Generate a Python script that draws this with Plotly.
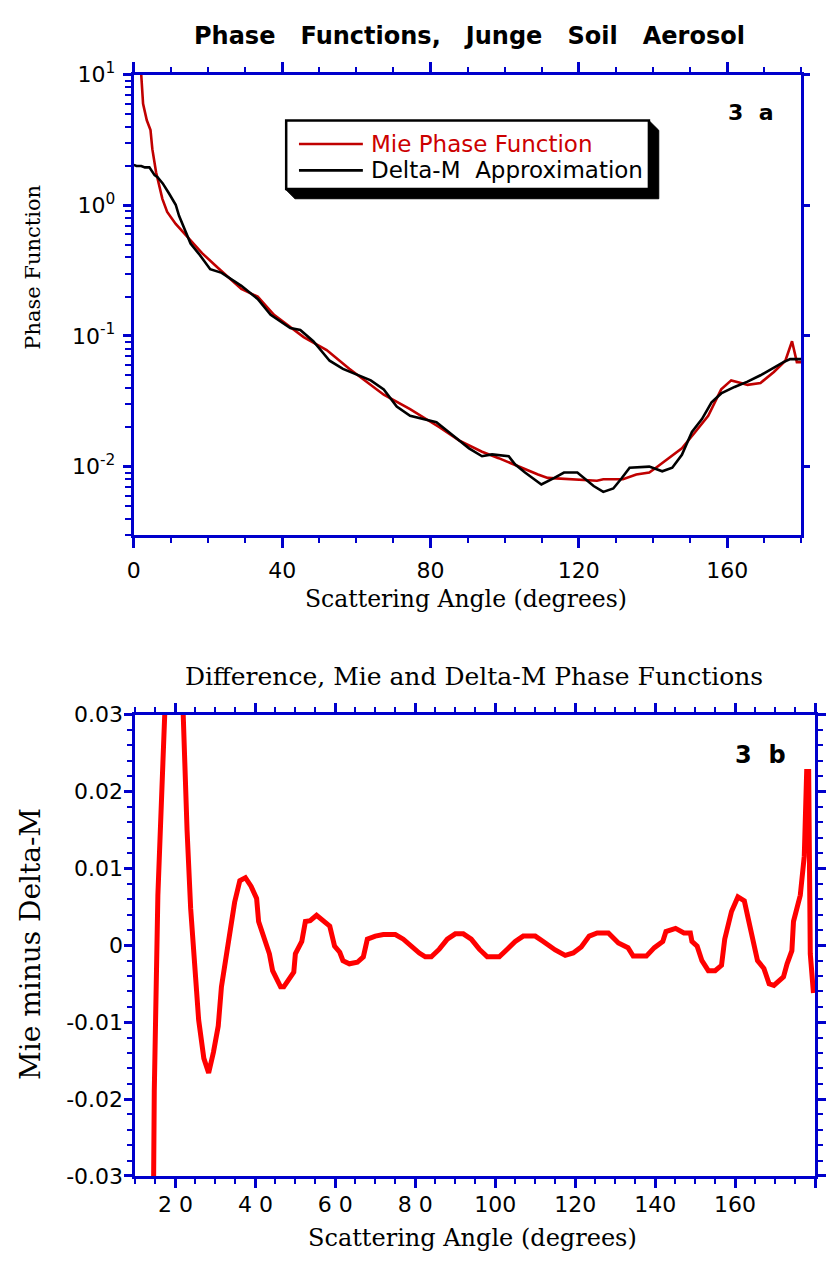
import numpy as np
import plotly.graph_objects as go

W, H = 826, 1273


def px(x):
    return x / W


def py(y):
    return 1 - y / H


# ---------------- data ----------------
mie_angle = [2, 2.5, 3.5, 4.5, 5.0, 6, 7.7, 9, 11.3, 14.8, 18.4, 22.8, 29, 33.4, 37.8,
             45.8, 52, 58.1, 62.6, 67.4, 74.5, 82.4, 87.8, 93.9, 98.4, 104.5, 109, 111.6,
             120.4, 124.9, 126.6, 131.9, 135.5, 139, 140.8, 144.3, 147.8, 151.4, 154.9,
             158.4, 161.1, 163.7, 165.5, 169, 172.6, 175.7, 177.5, 178.8, 180]
mie_value = [10, 5.97, 4.47, 3.76, 2.69, 1.79, 1.12, 0.89, 0.72, 0.555, 0.43, 0.33, 0.229,
             0.20, 0.145, 0.098, 0.078, 0.056, 0.045, 0.0355, 0.0275, 0.020, 0.0158, 0.013,
             0.0116, 0.0098, 0.0087, 0.0082, 0.0080, 0.0078, 0.0080, 0.0080, 0.0087, 0.0090,
             0.0098, 0.0116, 0.0138, 0.0184, 0.0245, 0.039, 0.0457, 0.0437, 0.0422, 0.0437,
             0.053, 0.0646, 0.091, 0.063, 0.063]

dm_angle = [0, 0.7, 2, 3, 4.2, 5.6, 6.4, 7.8, 9.5, 11.3, 12.2, 15.3, 17.5, 20.6, 23.7, 26,
            29, 33.4, 36.9, 42.2, 44.9, 48.4, 52.8, 56.4, 60.8, 63.9, 67.4, 70.9, 74.5, 78.9,
            81.6, 86, 90.4, 93.9, 96.6, 101.1, 102.8, 105.5, 109.9, 113.4, 116, 119.6, 124,
            126.6, 129.3, 131.5, 133.7, 139, 142.5, 145.2, 147.8, 150.5, 153.2, 155.8, 158.4,
            162, 165.5, 169, 172.6, 175.2, 177, 180]
dm_value = [2.04, 2.0, 2.0, 1.95, 1.95, 1.70, 1.64, 1.47, 1.23, 1.01, 0.83, 0.51, 0.427,
            0.324, 0.304, 0.275, 0.242, 0.192, 0.145, 0.115, 0.111, 0.091, 0.0646, 0.056,
            0.050, 0.0457, 0.039, 0.0288, 0.0245, 0.0229, 0.0219, 0.0174, 0.0138, 0.012,
            0.0124, 0.012, 0.0104, 0.009, 0.0073, 0.0082, 0.009, 0.009, 0.0071, 0.0064,
            0.0068, 0.0081, 0.0098, 0.010, 0.0092, 0.0098, 0.0123, 0.0184, 0.0231, 0.031,
            0.0363, 0.0407, 0.0447, 0.050, 0.0575, 0.063, 0.0665, 0.0665]

diff_angle = [14.4, 14.7, 15.6, 16.8, 17.2, 19.5, 21.3, 22.1, 22.9, 23.8, 24.6, 25.8, 27.1,
              28.3, 29.5, 30.7, 31.5, 32.8, 34.0, 34.8, 36.1, 37.5, 38.9, 40.3, 40.8, 42.2,
              43.5, 44.3, 46.3, 47.1, 49.6, 50.0, 51.6, 52.5, 53.7, 55.3, 56.9, 58.6, 59.8,
              61.1, 61.9, 63.5, 65.5, 67, 68, 70, 72, 75, 77, 79, 81, 82.5, 84, 86, 88, 90,
              92, 94, 96, 98, 101, 103, 105, 107, 110, 112, 115, 117.5, 119.5, 121.5, 123.5,
              125.5, 128.3, 130.8, 133.2, 134.5, 137.8, 139.8, 141.9, 142.7, 145.1, 147.2,
              148.8, 149.2, 150.5, 151.7, 153.3, 155.0, 156.6, 157.4, 159.1, 160.7, 162.3,
              163.1, 163.9, 164.8, 165.6, 167.2, 168.5, 169.7, 172.1, 173.0, 174.2, 174.6,
              176.3, 177.3, 177.9, 178.4, 178.8, 179.6]
diff_value = [-0.04, -0.019, 0.0065, 0.0234, 0.04, 0.06, 0.04, 0.0255, 0.015, 0.0048,
              -0.002, -0.0097, -0.0147, -0.0166, -0.0139, -0.0105, -0.0054, -0.0012, 0.0027,
              0.0056, 0.0084, 0.0088, 0.0077, 0.0061, 0.0031, 0.001, -0.0011, -0.0033,
              -0.0054, -0.0054, -0.0035, -0.0011, 0.0005, 0.0031, 0.0032, 0.0039, 0.0032,
              0.0025, -0.0001, -0.0009, -0.002, -0.0024, -0.0022, -0.0015, 0.0008, 0.0012,
              0.0014, 0.0014, 0.0008, -0.0002, -0.001, -0.0015, -0.0015, -0.0005, 0.0008,
              0.0015, 0.0015, 0.0008, -0.0005, -0.0015, -0.0015, -0.0005, 0.0005, 0.0012,
              0.0012, 0.0005, -0.0006, -0.0013, -0.0010, -0.0002, 0.0012, 0.0016, 0.0016,
              0.0003, -0.0003, -0.0014, -0.0014, -0.0003, 0.0005, 0.0018, 0.0022, 0.0016,
              0.0016, 0.0005, -0.0001, -0.002, -0.0033, -0.0033, -0.0026, 0.0008, 0.0044,
              0.0063, 0.0058, 0.0039, 0.0018, -0.0007, -0.002, -0.003, -0.005, -0.0052,
              -0.0041, -0.0024, -0.0007, 0.0031, 0.0065, 0.0116, 0.0226, 0.0226, -0.0011,
              -0.0062]

top_x_ticks = [0, 40, 80, 120, 160]
top_y_ticks = [0.01, 0.1, 1, 10]
top_y_text = ["10<sup>-2</sup>", "10<sup>-1</sup>", "10<sup>0</sup>", "10<sup>1</sup>"]
bot_x_ticks = [20, 40, 60, 80, 100, 120, 140, 160, 180]
bot_x_text = ["2 0", "4 0", "6 0", "8 0", "100", "120", "140", "160", "180"]
bot_y_ticks = [0.03, 0.02, 0.01, 0, -0.01, -0.02, -0.03]
bot_y_text = ["0.03", "0.02", "0.01", "0", "-0.01", "-0.02", "-0.03"]

# ---------------- style ----------------
BLUE = "#0000cc"
SANS = "DejaVu Sans"
SERIF = "DejaVu Serif"
tickfont = dict(family=SANS, size=22, color="black")

minor_log = [m * 10.0 ** e for e in (-3, -2, -1, 0) for m in range(2, 10)]
minor_log = [v for v in minor_log if v >= 0.003]

fig = go.Figure()
fig.add_trace(go.Scatter(x=mie_angle, y=mie_value, mode="lines",
                         line=dict(color="#c00000", width=2.6),
                         xaxis="x", yaxis="y", showlegend=False))
fig.add_trace(go.Scatter(x=dm_angle, y=dm_value, mode="lines",
                         line=dict(color="black", width=2.6),
                         xaxis="x", yaxis="y", showlegend=False))
fig.add_trace(go.Scatter(x=diff_angle, y=diff_value, mode="lines",
                         line=dict(color="#ff0000", width=5),
                         xaxis="x2", yaxis="y2", showlegend=False))
# empty trace so the right-hand decade tick axis of the top panel is drawn
fig.add_trace(go.Scatter(x=[], y=[], xaxis="x", yaxis="y3", showlegend=False,
                         hoverinfo="skip"))

axis_common = dict(showline=True, linecolor=BLUE, linewidth=3, ticks="outside",
                   tickcolor=BLUE, tickwidth=2.5, showgrid=False, zeroline=False,
                   tickfont=tickfont)

fig.update_layout(
    width=W, height=H, margin=dict(l=0, r=0, t=0, b=0),
    paper_bgcolor="white", plot_bgcolor="white", showlegend=False,
    xaxis=dict(domain=[px(129), px(808)], anchor="y", range=[0, 180],
               tickmode="array", tickvals=top_x_ticks, ticklen=10, mirror="ticks",
               ticklabelstandoff=4,
               minor=dict(dtick=10, tick0=0, ticks="outside", ticklen=5,
                          tickcolor=BLUE, tickwidth=2),
               **axis_common),
    yaxis=dict(domain=[py(531), py(60)], anchor="x", type="log",
               range=[np.log10(0.003), 1], tickmode="array", tickvals=top_y_ticks,
               ticktext=top_y_text, ticklen=8, mirror=True, ticklabelstandoff=3,
               minor=dict(tickvals=minor_log, ticks="outside", ticklen=6,
                          tickcolor=BLUE, tickwidth=2),
               **axis_common),
    yaxis3=dict(overlaying="y", anchor="x", side="right", type="log",
                range=[np.log10(0.003), 1], tickmode="array", tickvals=top_y_ticks,
                ticks="outside", ticklen=8, tickcolor=BLUE, tickwidth=2.5,
                showticklabels=False, showline=False, showgrid=False, zeroline=False),
    xaxis2=dict(domain=[px(130.7), px(822)], anchor="y2", range=[10, 180],
                tickmode="array", tickvals=bot_x_ticks, ticktext=bot_x_text,
                ticklen=9, mirror="ticks", ticklabelstandoff=-2,
                minor=dict(dtick=5, tick0=10, ticks="outside", ticklen=5,
                           tickcolor=BLUE, tickwidth=2),
                **axis_common),
    yaxis2=dict(domain=[py(1187), py(715)], anchor="x2", range=[-0.03, 0.03],
                tickmode="array", tickvals=bot_y_ticks, ticktext=bot_y_text,
                ticklen=8, mirror="ticks", ticklabelstandoff=-3,
                minor=dict(dtick=0.002, tick0=0, ticks="outside", ticklen=5,
                           tickcolor=BLUE, tickwidth=2),
                **axis_common),
)

ann = []


def text(x, y, s, size, family, color="black", xanchor="center", angle=0):
    ann.append(dict(x=px(x), y=py(y), xref="paper", yref="paper", text=s,
                    showarrow=False, xanchor=xanchor, yanchor="middle", textangle=angle,
                    font=dict(family=family, size=size, color=color)))


sp = "&nbsp;&nbsp;&nbsp;"
text(470, 20, "<b>Phase" + sp + "Functions," + sp + "Junge" + sp + "Soil" + sp + "Aerosol</b>",
     24, SANS)
text(467, 597, "Scattering Angle (degrees)", 23.5, SERIF)
text(27, 257, "Phase Function", 21, SERIF, angle=-90)
text(756, 99, "<b>3&nbsp;&nbsp;a</b>", 22, SANS)
text(475, 676, "Difference, Mie and Delta-M Phase Functions", 25, SERIF)
text(474, 1250, "Scattering Angle (degrees)", 24, SERIF)
text(24, 950, "Mie minus Delta-M", 28, SERIF, angle=-90)
text(766, 756, "<b>3&nbsp;&nbsp;b</b>", 24, SANS)
# legend text
text(368, 131, "Mie Phase Function", 23, SANS, color="#cc0000", xanchor="left")
text(368, 158, "Delta-M&nbsp;&nbsp;Approximation", 23, SANS, xanchor="left")

shapes = []
# legend shadow, box and sample lines
sh = [(653, 107), (663, 117), (663, 187), (293, 187), (283, 177)]
path = "M " + " L ".join(f"{px(a):.5f},{py(b):.5f}" for a, b in sh) + " Z"
shapes.append(dict(type="path", path=path, xref="paper", yref="paper",
                   fillcolor="black", line=dict(color="black", width=1)))
shapes.append(dict(type="rect", xref="paper", yref="paper", x0=px(284), x1=px(653),
                   y0=py(177), y1=py(107), fillcolor="white",
                   line=dict(color="black", width=2.5)))
shapes.append(dict(type="line", xref="paper", yref="paper", x0=px(297), x1=px(362),
                   y0=py(131), y1=py(131), line=dict(color="#c00000", width=2.6)))
shapes.append(dict(type="line", xref="paper", yref="paper", x0=px(297), x1=px(362),
                   y0=py(158), y1=py(158), line=dict(color="black", width=2.6)))

fig.update_layout(annotations=ann, shapes=shapes)
fig.write_html("out.html")
